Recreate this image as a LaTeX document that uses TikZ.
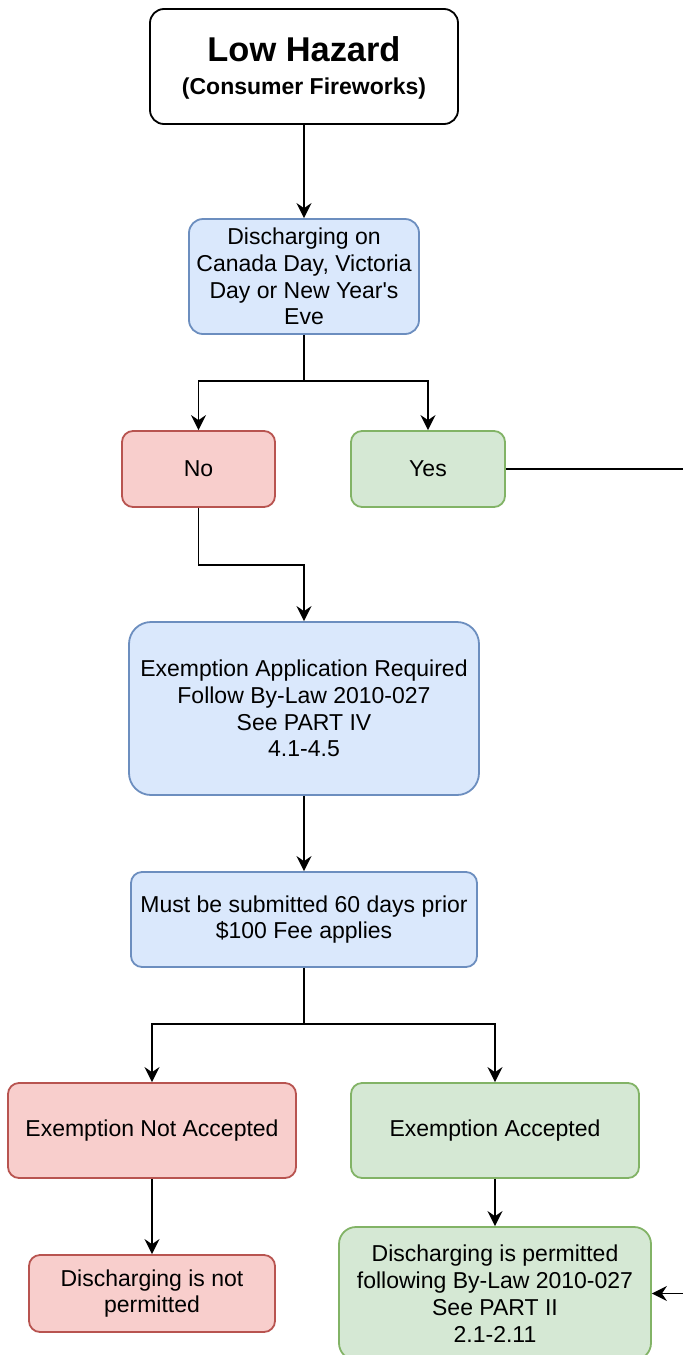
\documentclass[tikz,border=0pt]{standalone}
\usepackage{fontspec}
\setmainfont{Liberation Sans}[Ligatures=TeXOff]
\usetikzlibrary{arrows.meta}

\definecolor{bluefill}{HTML}{DAE8FC}
\definecolor{bluedraw}{HTML}{6C8EBF}
\definecolor{redfill}{HTML}{F8CECC}
\definecolor{reddraw}{HTML}{B85450}
\definecolor{greenfill}{HTML}{D5E8D4}
\definecolor{greendraw}{HTML}{82B366}

\begin{document}
\begin{tikzpicture}[x=0.5pt, y=-0.5pt,
  box/.style={draw, rounded corners=5.5pt, line width=0.9pt, align=center, inner sep=0pt,
    font=\fontsize{11.5}{13.4}\selectfont},
  bluebox/.style={box, fill=bluefill, draw=bluedraw},
  redbox/.style={box, fill=redfill, draw=reddraw},
  greenbox/.style={box, fill=greenfill, draw=greendraw},
  arr/.style={line width=0.9pt, -{Stealth[length=7.5pt, width=7.5pt, inset=2.5pt]}}]
\useasboundingbox (0,0) rectangle (683,1355);
\clip (0,0) rectangle (683,1355);

% boxes
\node [box, fill=white, rounded corners=7pt, minimum width=154pt, minimum height=57.5pt,
  font=\bfseries\fontsize{11.5}{16.5}\selectfont] (hazard) at (304,66.5)
  {\rule{0pt}{14pt}{\fontsize{17.2}{16.5}\selectfont Low Hazard}\\(Consumer Fireworks)};
\node [bluebox, rounded corners=7pt, minimum width=115pt, minimum height=57.5pt] (holiday) at (304,276.5)
  {Discharging on\\Canada Day, Victoria\\Day or New Year's\\Eve};
\node [redbox, minimum width=76.5pt, minimum height=38pt] (no) at (198.5,469) {No};
\node [greenbox, minimum width=77pt, minimum height=38pt] (yes) at (428,469) {Yes};
\node [bluebox, rounded corners=11pt, minimum width=175pt, minimum height=86.5pt] (apply) at (304,708.5)
  {Exemption Application Required\\Follow By-Law 2010-027\\See PART IV\\4.1-4.5};
\node [bluebox, minimum width=173pt, minimum height=47.5pt] (submit) at (304,919.5)
  {Must be submitted 60 days prior\\\$100 Fee applies};
\node [redbox, minimum width=144pt, minimum height=47.5pt] (rejected) at (152,1130.5)
  {Exemption Not Accepted};
\node [greenbox, minimum width=144pt, minimum height=47.5pt] (accepted) at (495,1130.5)
  {Exemption Accepted};
\node [redbox, minimum width=123pt, minimum height=38.5pt] (notallowed) at (152,1293.5)
  {Discharging is not\\permitted};
\node [greenbox, rounded corners=8.5pt, minimum width=156pt, minimum height=66.5pt] (allowed) at (495,1293.5)
  {Discharging is permitted\\following By-Law 2010-027\\See PART II\\2.1-2.11};

% bends
\coordinate (split1) at (304,381);
\coordinate (join1) at (304,565);
\coordinate (split2) at (304,1024);
\coordinate (offpage) at (720,469);

% connectors
\draw [arr] (hazard.south) -- (holiday.north);
\draw [arr] (holiday.south) -- (split1) -| (no.north);
\draw [arr] (split1) -| (yes.north);
\draw [arr] (no.south) |- (join1) -- (apply.north);
\draw [arr] (apply.south) -- (submit.north);
\draw [arr] (submit.south) -- (split2) -| (rejected.north);
\draw [arr] (split2) -| (accepted.north);
\draw [arr] (rejected.south) -- (notallowed.north);
\draw [arr] (accepted.south) -- (allowed.north);
\draw [arr] (yes.east) -- (offpage) |- (allowed.east);
\end{tikzpicture}
\end{document}
